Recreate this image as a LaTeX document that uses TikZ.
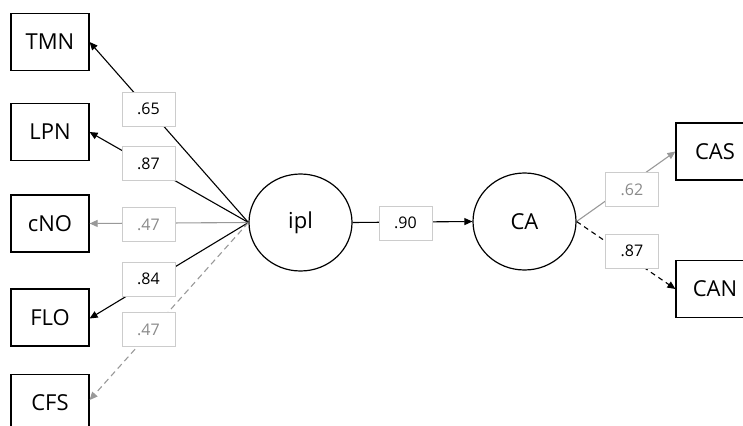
\documentclass[tikz,border=0pt]{standalone}
\usepackage{fontspec}
\setmainfont{Open Sans}
\usetikzlibrary{arrows.meta,shapes.geometric}
\definecolor{lightline}{HTML}{999999}
\definecolor{lighttext}{HTML}{8A8A8A}
\definecolor{labelframe}{HTML}{CCCCCC}
\begin{document}
\begin{tikzpicture}[x=1pt,y=-1pt,
  obsbox/.style={draw=black,line width=1.2pt,minimum width=78pt,minimum height=57pt,
    inner sep=0pt,font=\fontsize{22}{26}\selectfont},
  latent/.style={draw=black,line width=1.2pt,ellipse,minimum width=103pt,minimum height=97pt,
    inner sep=0pt,font=\fontsize{22}{26}\selectfont},
  coef/.style={draw=labelframe,line width=0.8pt,fill=white,minimum width=53pt,minimum height=34pt,
    inner sep=0pt,font=\fontsize{16}{19}\selectfont},
  coefgray/.style={coef,text=lighttext},
  path/.style={line width=1.1pt,-{Triangle[length=8pt,width=7pt]}},
  graypath/.style={path,draw=lightline,color=lightline},
  dashpath/.style={path,dash pattern=on 5pt off 4pt},
  graydash/.style={graypath,dash pattern=on 6pt off 4pt}]
\useasboundingbox (0,0) rectangle (743,425);
\clip (0,0) rectangle (743,425);

% indicators on the left
\node[obsbox] (TMN) at (50,42) {TMN};
\node[obsbox] (LPN) at (50,132) {LPN};
\node[obsbox] (cNO) at (50,223.5) {cNO};
\node[obsbox] (FLO) at (50,317.5) {FLO};
\node[obsbox] (CFS) at (50,403) {CFS};

% latent variables
\node[latent] (ipl) at (300.5,222.5) {ipl};
\node[latent] (CA) at (524.5,221.5) {CA};

% indicators on the right
\node[obsbox] (CAS) at (715,151.5) {CAS};
\node[obsbox] (CAN) at (715,289) {CAN};

% loadings of ipl
\draw[path] (ipl.west) -- (TMN.east);
\draw[path] (ipl.west) -- (LPN.east);
\draw[graypath] (ipl.west) -- (cNO.east);
\draw[path] (ipl.west) -- ([yshift=-1pt]FLO.east);
\draw[graydash] (ipl.west) -- ([yshift=3pt]CFS.east);

% structural path
\draw[path] (ipl.east) -- (CA.west);

% loadings of CA
\draw[graypath] (CA.east) -- (CAS.west);
\draw[dashpath] (CA.east) -- (CAN.west);

% coefficient labels
\node[coef] (l1) at (148.5,109) {.65};
\node[coef] (l2) at (148.5,163.5) {.87};
\node[coefgray] (l3) at (148.5,224.5) {.47};
\node[coef] (l4) at (148.5,279) {.84};
\node[coefgray] (l5) at (148.5,329.5) {.47};
\node[coef] (l6) at (405.5,223) {.90};
\node[coefgray] (l7) at (632,189.5) {.62};
\node[coef] (l8) at (632,251) {.87};
\end{tikzpicture}
\end{document}
